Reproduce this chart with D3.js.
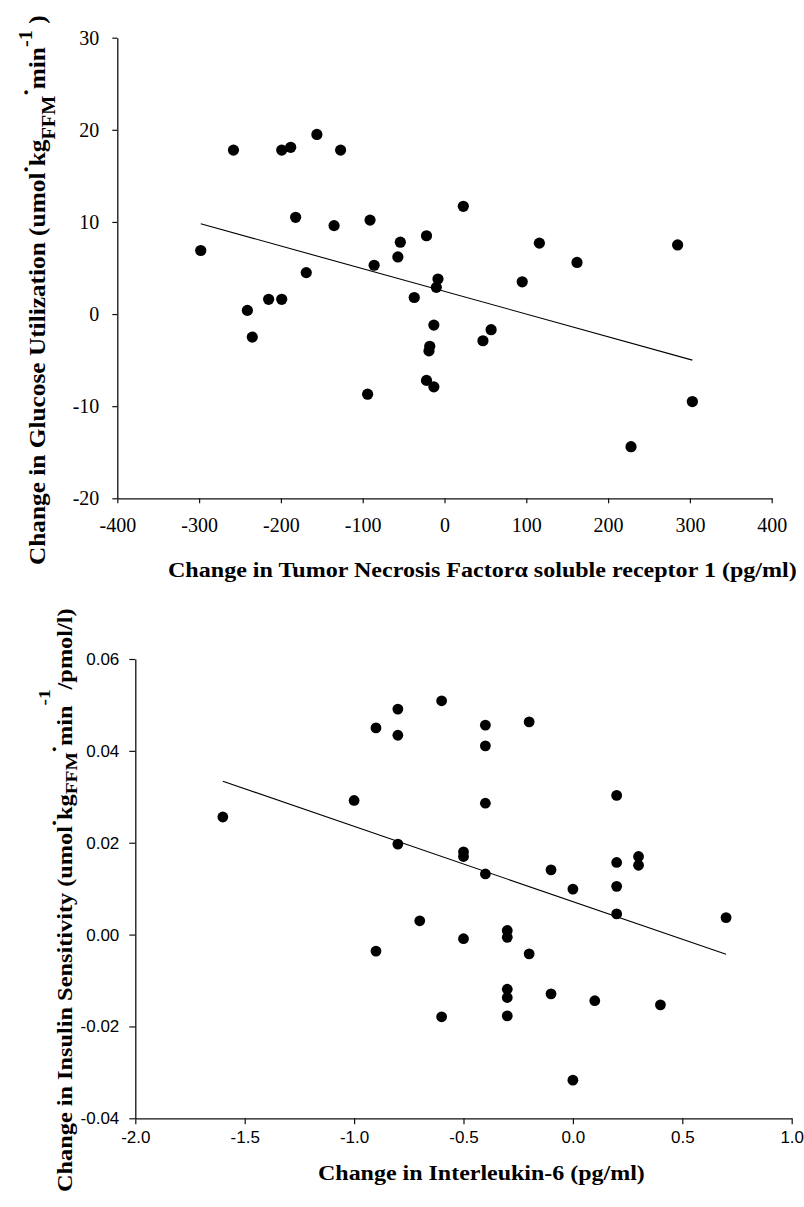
<!DOCTYPE html>
<html>
<head>
<meta charset="utf-8">
<script src="https://cdn.jsdelivr.net/npm/d3@7"></script>
<style>
  body { margin: 0; background: #fff; }
  svg { display: block; }
</style>
</head>
<body>
<svg id="chart"></svg>
<script>
// top panel: change in TNF-alpha sR1 vs change in glucose utilization
const tnfChange = [-298, -258, -241, -235, -215, -199, -199, -188, -182, -169, -156, -135, -127, -91, -94, -86,
  -54, -57, -37, -22, -22, -13, -18, -19, -13, -8, -10, 23, 47, 57, 95, 116, 162, 228, 285, 303]
const glucoseChange = [6.9, 17.8, 0.4, -2.5, 1.6, 1.6, 17.8, 18.1, 10.5, 4.5, 19.5, 9.6, 17.8, 10.2, -8.7, 5.3,
  7.8, 6.2, 1.8, 8.5, -7.2, -7.9, -3.5, -4.0, -1.2, 3.8, 2.9, 11.7, -2.9, -1.7, 3.5, 7.7, 5.6, -14.4, 7.5, -9.5]
const tnfFitX = [-298, 303]
const glucoseFitY = [9.8, -5.0]
const tnfTicks = [-400, -300, -200, -100, 0, 100, 200, 300, 400]
const glucoseTicks = [-20, -10, 0, 10, 20, 30]

// bottom panel: change in IL-6 vs change in insulin sensitivity
const il6Change = [-1.6, -1.0, -0.9, -0.9, -0.8, -0.8, -0.8, -0.7, -0.6, -0.6, -0.5, -0.5, -0.5,
  -0.4, -0.4, -0.4, -0.4, -0.3, -0.3, -0.3, -0.3, -0.3, -0.2, -0.2, -0.1, -0.1,
  0.0, 0.0, 0.1, 0.2, 0.2, 0.2, 0.2, 0.3, 0.3, 0.4, 0.7]
const insulinChange = [0.0256, 0.0292, 0.0450, -0.0036, 0.0491, 0.0434, 0.0197, 0.0030, 0.0509, -0.0179, 0.0180, 0.0170, -0.0009,
  0.0456, 0.0411, 0.0286, 0.0132, 0.0009, -0.0006, -0.0119, -0.0137, -0.0177, 0.0463, -0.0042, 0.0141, -0.0129,
  0.0099, -0.0317, -0.0144, 0.0303, 0.0157, 0.0105, 0.0045, 0.0170, 0.0151, -0.0153, 0.0037]
const il6FitX = [-1.6, 0.7]
const insulinFitY = [0.0334, -0.0043]
const il6Ticks = [-2.0, -1.5, -1.0, -0.5, 0.0, 0.5, 1.0]
const insulinTicks = [-0.04, -0.02, 0.00, 0.02, 0.04, 0.06]

const width = 804, height = 1207
const serif = '"Liberation Serif", "Times New Roman", serif'
const sans = '"Liberation Sans", Arial, sans-serif'

const svg = d3.select('#chart')
  .attr('width', width)
  .attr('height', height)
svg.append('rect').attr('width', width).attr('height', height).attr('fill', '#fff')

function drawPanel(opt) {
  const g = svg.append('g')
  const x = opt.x, y = opt.y

  const xAxis = g.append('g')
    .attr('transform', 'translate(0,' + y.range()[0] + ')')
    .call(d3.axisBottom(x).tickValues(opt.xTicks).tickFormat(opt.xFmt)
      .tickSize(opt.tick).tickSizeOuter(0).tickPadding(opt.xPad))
  const yAxis = g.append('g')
    .attr('transform', 'translate(' + x.range()[0] + ',0)')
    .call(d3.axisLeft(y).tickValues(opt.yTicks).tickFormat(opt.yFmt)
      .tickSize(opt.tick).tickSizeOuter(0).tickPadding(opt.yPad))

  ;[xAxis, yAxis].forEach(a => {
    a.select('.domain').attr('stroke', '#111').attr('stroke-width', 1.3)
    a.selectAll('.tick line').attr('stroke', '#111').attr('stroke-width', 1.2)
    a.selectAll('text').attr('fill', '#000')
  })
  xAxis.attr('font-family', opt.font).attr('font-size', opt.xFont)
  yAxis.attr('font-family', opt.font).attr('font-size', opt.yFont)

  // regression line
  g.append('path')
    .datum(opt.fitX.map((v, i) => [v, opt.fitY[i]]))
    .attr('fill', 'none')
    .attr('stroke', '#000')
    .attr('stroke-width', 1.1)
    .attr('d', d3.line().x(d => x(d[0])).y(d => y(d[1])))

  g.selectAll('circle.pt')
    .data(opt.xs.map((v, i) => [v, opt.ys[i]]))
    .enter()
    .append('circle')
    .attr('class', 'pt')
    .attr('cx', d => x(d[0]))
    .attr('cy', d => y(d[1]))
    .attr('r', opt.r)
    .attr('fill', '#000')
}

// text with baseline shifts; parts = [text, shift, scale]
function richText(parts, size) {
  const t = svg.append('text')
    .attr('font-family', serif)
    .attr('font-weight', 'bold')
    .attr('font-size', size)
    .attr('fill', '#000')
  let prev = 0
  parts.forEach(p => {
    const shift = p[1] || 0
    t.append('tspan')
      .attr('dy', shift - prev)
      .attr('font-size', size * (p[2] || 1))
      .text(p[0])
    prev = shift
  })
  return t
}

function placeLabel(t, px, py, len, rotate) {
  const n = t.node().getComputedTextLength()
  t.attr('transform', 'translate(' + px + ',' + py + ')' + (rotate ? ' rotate(-90)' : '') +
    ' scale(' + (len / n) + ',1)')
}

const x1 = d3.scaleLinear().domain([-400, 400]).range([117.3, 771.7])
const y1 = d3.scaleLinear().domain([-20, 30]).range([498.3, 37.7])
drawPanel({
  x: x1, y: y1, xTicks: tnfTicks, yTicks: glucoseTicks,
  xFmt: d => String(d), yFmt: d => String(d),
  tick: 5, xPad: 15, yPad: 13, font: serif, xFont: 20, yFont: 20,
  fitX: tnfFitX, fitY: glucoseFitY, xs: tnfChange, ys: glucoseChange, r: 5.6
})

const x2 = d3.scaleLinear().domain([-2, 1]).range([135.3, 791.7])
const y2 = d3.scaleLinear().domain([-0.04, 0.06]).range([1118.3, 659])
drawPanel({
  x: x2, y: y2, xTicks: il6Ticks, yTicks: insulinTicks,
  xFmt: d => d.toFixed(1), yFmt: d => d.toFixed(2),
  tick: 6, xPad: 7, yPad: 10, font: sans, xFont: 17, yFont: 17,
  fitX: il6FitX, fitY: insulinFitY, xs: il6Change, ys: insulinChange, r: 5.4
})

// axis titles
const t1x = richText([['Change in Tumor Necrosis Factor'], ['\u03B1'], [' soluble receptor 1 (pg/ml)']], 20)
placeLabel(t1x, 168, 577, 629, false)

const t1y = richText([
  ['Change in Glucose Utilization (umol'], ['.', -17], ['kg', 0], ['FFM', 10, 0.8],
  ['.', -17], ['min', 0], ['-1', -13, 0.8], [' )', 0]
], 24)
placeLabel(t1y, 45, 565, 550, true)

const t2x = richText([['Change in Interleukin-6 (pg/ml)']], 20)
placeLabel(t2x, 318, 1180, 327, false)

const t2y = richText([
  ['Change in Insulin Sensitivity (umol'], ['.', -16], ['kg', 0], ['FFM', 5, 0.8],
  ['.', -16], ['min', 0], ['-1', -22, 0.8], ['/pmol/l)', 0]
], 21)
placeLabel(t2y, 72, 1192, 584, true)
</script>
</body>
</html>
